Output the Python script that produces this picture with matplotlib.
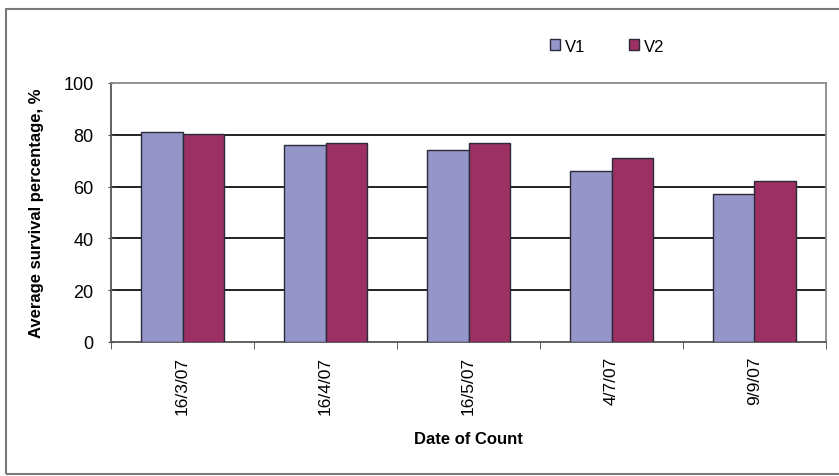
import matplotlib
matplotlib.use("Agg")
import matplotlib.pyplot as plt
import numpy as np
from matplotlib.patches import Rectangle

plt.rcParams['font.family'] = ['Liberation Sans', 'DejaVu Sans']

dates = ["16/3/07", "16/4/07", "16/5/07", "4/7/07", "9/9/07"]
v1 = [81, 76, 74, 66, 57]
v2 = [80.5, 77, 77, 71, 62]
series_names = ["V1", "V2"]
yticks = [0, 20, 40, 60, 80, 100]

W, H = 839, 477
fig = plt.figure(figsize=(W / 100, H / 100), dpi=100)
fig.patch.set_facecolor("white")

# outer frame
fig.patches.append(Rectangle((6 / W, 1 - 475 / H), 840 / W, (475 - 10) / H,
                             transform=fig.transFigure, fill=False,
                             edgecolor="#7a7a7a", linewidth=1.5))

ax = fig.add_axes([111 / W, 1 - 343 / H, (826 - 111) / W, (343 - 84) / H])
x = np.arange(len(dates))
bw = 0.29
ax.bar(x - bw / 2, v1, bw, color="#9595c9", edgecolor="#2a2a3a", linewidth=1.0,
       label=series_names[0], zorder=3)
ax.bar(x + bw / 2, v2, bw, color="#9c3063", edgecolor="#2a2a3a", linewidth=1.0,
       label=series_names[1], zorder=3)

ax.set_xlim(-0.5, len(dates) - 0.5)
ax.set_ylim(0, 100)
ax.set_yticks(yticks)
ax.set_yticklabels([str(t) for t in yticks], fontsize=13)
for t in yticks[1:-1]:
    ax.axhline(t, color="#222222", linewidth=1.4, zorder=1)

ax.set_xticks(x)
ax.set_xticklabels(dates, rotation=90, fontsize=12.5)
ax.tick_params(axis="x", length=0, pad=10)
ax.set_xticks(np.arange(len(dates) + 1) - 0.5, minor=True)
ax.tick_params(axis="x", which="minor", length=5, direction="out", color="#444444")
ax.tick_params(axis="y", length=5, direction="inout", color="#444444", pad=10)

for side in ["top", "right"]:
    ax.spines[side].set_color("#8a8a8a")
    ax.spines[side].set_linewidth(1.3)
for side in ["left", "bottom"]:
    ax.spines[side].set_color("#555555")
    ax.spines[side].set_linewidth(1.3)

ax.set_ylabel("Average survival percentage, %", fontsize=12, fontweight="bold", labelpad=14)
ax.set_xlabel("Date of Count", fontsize=12, fontweight="bold", labelpad=12)

leg = fig.legend(loc="center", bbox_to_anchor=(607 / W, 1 - 47 / H), ncol=2,
                 frameon=False, fontsize=12, handlelength=0.6, handleheight=0.6,
                 columnspacing=2.6, handletextpad=0.3)

fig.savefig("out.png", dpi=100, facecolor="white")
